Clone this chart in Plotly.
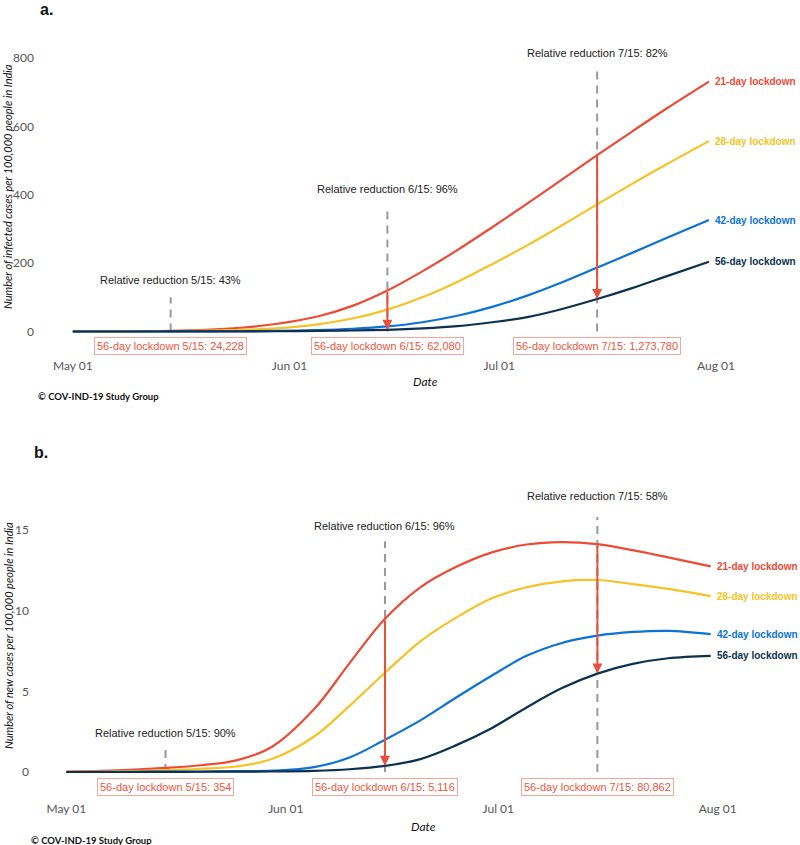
import plotly.graph_objects as go
import pandas as pd

# ---------------- data ----------------
dates = ["2020-05-01", "2020-05-06", "2020-05-10", "2020-05-15", "2020-05-20",
         "2020-05-25", "2020-05-30", "2020-06-05", "2020-06-10", "2020-06-15",
         "2020-06-20", "2020-06-25", "2020-06-30", "2020-07-05", "2020-07-10",
         "2020-07-15", "2020-07-20", "2020-07-25", "2020-07-31"]

series_names = ["21-day lockdown", "28-day lockdown", "42-day lockdown", "56-day lockdown"]

# panel a: cumulative infected cases per 100,000
cum_21 = [0, 0.3, 0.8, 2, 5, 11, 22, 44, 75, 120, 176, 238, 305, 374, 445, 516, 585, 653, 731]
cum_28 = [0, 0.1, 0.3, 1, 2.3, 4.5, 9, 21, 38, 64, 100, 145, 197, 252, 311, 372, 432, 490, 557]
cum_42 = [0, 0, 0.05, 0.2, 0.4, 0.8, 1.6, 4, 8, 15, 27, 46, 72, 105, 144, 187, 230, 274, 326]
cum_56 = [0, 0, 0, 0.1, 0.2, 0.4, 0.8, 1.8, 3, 5, 9, 15.5, 27, 42, 66, 95, 127, 162, 204]

# panel b: new cases per 100,000
new_21 = [0.03, 0.07, 0.13, 0.25, 0.42, 0.72, 1.55, 3.9, 6.75, 9.5, 11.45, 12.7, 13.6, 14.1, 14.25, 14.12, 13.75, 13.3, 12.75]
new_28 = [0.01, 0.03, 0.06, 0.11, 0.2, 0.34, 0.8, 2.2, 4.1, 6.15, 8.1, 9.55, 10.75, 11.45, 11.82, 11.9, 11.65, 11.35, 10.9]
new_42 = [0, 0.005, 0.01, 0.02, 0.03, 0.05, 0.08, 0.3, 0.9, 2.0, 3.2, 4.6, 5.95, 7.2, 8.0, 8.45, 8.68, 8.75, 8.55]
new_56 = [0, 0, 0, 0.01, 0.015, 0.02, 0.03, 0.07, 0.17, 0.38, 0.8, 1.65, 2.7, 4.0, 5.2, 6.1, 6.7, 7.05, 7.2]

compare_dates = ["2020-05-15", "2020-06-15", "2020-07-15"]
compare_labels = ["5/15", "6/15", "7/15"]
reduction_a = ["43%", "96%", "82%"]
reduction_b = ["90%", "96%", "58%"]
totals_a = ["24,228", "62,080", "1,273,780"]
totals_b = ["354", "5,116", "80,862"]

xtick_vals = ["2020-05-01", "2020-06-01", "2020-07-01", "2020-08-01"]
xtick_text = ["May 01", "Jun 01", "Jul 01", "Aug 01"]
ytick_a = [0, 200, 400, 600, 800]
ytick_b = [0, 5, 10, 15]

# ---------------- styling ----------------
colors = ["#EC4B35", "#F5C325", "#0B72D6", "#0E3150"]
W, H = 800, 845
GRAY = "#999999"
ARROW = "#E9503A"
BOXTXT = "#F0553D"
BOXBORDER = "#F6A699"
SANS = "Liberation Sans, Arial"

base = pd.Timestamp("2020-05-01")


def day(d):
    return str(base + pd.Timedelta(days=d))


def px(x):
    return x / W


def py(y):
    return 1 - y / H


fig = go.Figure()

panels = [
    dict(x="x", y="y", data=[cum_21, cum_28, cum_42, cum_56]),
    dict(x="x2", y="y2", data=[new_21, new_28, new_42, new_56]),
]

for p in panels:
    for name, vals, c in zip(series_names, p["data"], colors):
        fig.add_trace(go.Scatter(x=dates, y=vals, mode="lines", name=name,
                                 line=dict(color=c, width=2.2, shape="spline", smoothing=1.0),
                                 xaxis=p["x"], yaxis=p["y"], showlegend=False,
                                 hoverinfo="skip"))

annotations = []
shapes = []

# guide geometry (layout constants, in data units of each panel)
guide_a = dict(top=[100, 360, 765], text_y=[150, 418, 815], box_y=-41, xref="x", yref="y")
guide_b = dict(top=[1.6, 14.3, 15.8], text_y=[2.4, 15.25, 17.1], box_y=-0.93, xref="x2", yref="y2")

for g, p, reds, darks, red_txt, totals in [
        (guide_a, panels[0], cum_21, cum_56, reduction_a, totals_a),
        (guide_b, panels[1], new_21, new_56, reduction_b, totals_b)]:
    for k, cd in enumerate(compare_dates):
        i = dates.index(cd)
        shapes.append(dict(type="line", xref=g["xref"], yref=g["yref"],
                           x0=cd, x1=cd, y0=0, y1=g["top"][k],
                           line=dict(color=GRAY, width=2, dash="8px,6px"), layer="below"))
        annotations.append(dict(x=cd, y=g["text_y"][k], xref=g["xref"], yref=g["yref"],
                                text=f"Relative reduction {compare_labels[k]}: {red_txt[k]}",
                                showarrow=False,
                                font=dict(family=SANS, size=11, color="#222222")))
        annotations.append(dict(x=cd, y=darks[i], ax=cd, ay=reds[i],
                                xref=g["xref"], yref=g["yref"], axref=g["xref"], ayref=g["yref"],
                                text="", showarrow=True, arrowhead=2, arrowsize=1,
                                arrowwidth=2, arrowcolor=ARROW))
        annotations.append(dict(x=cd, y=g["box_y"], xref=g["xref"], yref=g["yref"],
                                text=f"56-day lockdown {compare_labels[k]}: {totals[k]}",
                                showarrow=False, bgcolor="white", bordercolor=BOXBORDER,
                                borderwidth=1, borderpad=2,
                                font=dict(family=SANS, size=11, color=BOXTXT)))
    # series labels at the right
    for name, vals, c in zip(series_names, p["data"], colors):
        annotations.append(dict(x=dates[-1], y=vals[-1], xref=p["x"], yref=p["y"],
                                text=f"<b>{name}</b>", showarrow=False, xanchor="left",
                                xshift=4,
                                font=dict(family=SANS, size=10, color=c)))

# panel letters, titles, captions
for txt, x, y in [("a.", 38, 10), ("b.", 32, 452)]:
    annotations.append(dict(x=px(x), y=py(y), xref="paper", yref="paper", text=f"<b>{txt}</b>",
                            showarrow=False, xanchor="left", yanchor="middle",
                            font=dict(family=SANS, size=16, color="#111111")))
for txt, x, y in [("Date", 425, 381), ("Date", 423, 826)]:
    annotations.append(dict(x=px(x), y=py(y), xref="paper", yref="paper", text=f"<i>{txt}</i>",
                            showarrow=False, xanchor="center", yanchor="middle",
                            font=dict(family="Lato", size=12, color="#111111")))
for txt, y in [("Number of infected cases per 100,000 people in India", 187),
               ("Number of new cases per 100,000 people in India", 636)]:
    annotations.append(dict(x=px(8), y=py(y), xref="paper", yref="paper", text=f"<i>{txt}</i>",
                            showarrow=False, textangle=-90, xanchor="center", yanchor="middle",
                            font=dict(family="Lato", size=11, color="#111111")))
for x, y in [(36, 396), (29, 840)]:
    annotations.append(dict(x=px(x), y=py(y), xref="paper", yref="paper",
                            text="<b>© COV-IND-19 Study Group</b>", showarrow=False,
                            xanchor="left", yanchor="middle",
                            font=dict(family="Lato", size=9.5, color="#111111")))

tickfont = dict(family="Lato", size=12, color="#555555")
axis_common = dict(showgrid=False, zeroline=False, showline=False, ticks="",
                   tickfont=tickfont)

fig.update_layout(
    width=W, height=H, margin=dict(l=0, r=0, t=0, b=0),
    paper_bgcolor="white", plot_bgcolor="white",
    xaxis=dict(domain=[px(40), px(760)], range=[day(-4.69), day(98.3)], type="date",
               tickvals=xtick_vals, ticktext=xtick_text, anchor="y", **axis_common),
    yaxis=dict(domain=[py(357), py(40)], range=[-74.6, 852.8], tickvals=ytick_a,
               anchor="x", ticklabelstandoff=5, **axis_common),
    xaxis2=dict(domain=[px(35), px(760)], range=[day(-4.43), day(97.97)], type="date",
                tickvals=xtick_vals, ticktext=xtick_text, anchor="y2", **axis_common),
    yaxis2=dict(domain=[py(800), py(485)], range=[-1.736, 17.79], tickvals=ytick_b,
                anchor="x2", ticklabelstandoff=5, **axis_common),
    annotations=annotations, shapes=shapes,
)

fig.write_html("out.html", config={"displayModeBar": False},
               post_script="document.body.style.margin='0';"
                           "document.body.style.overflow='hidden';")
